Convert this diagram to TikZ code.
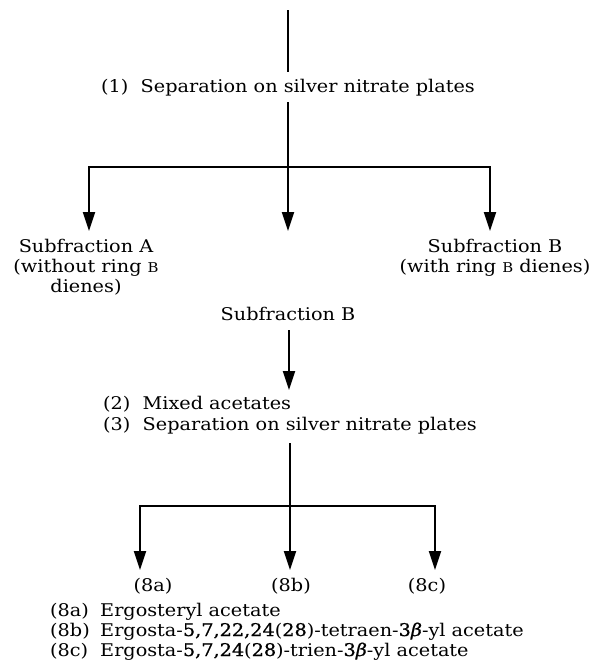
\documentclass[tikz,border=0pt]{standalone}
\usepackage{fontspec}
\setmainfont[FakeStretch=1.1]{DejaVu Serif}
\usetikzlibrary{arrows.meta}
\newcommand{\scB}{{\fontsize{13.5}{13.5}\selectfont B}}
\newcommand{\bd}[1]{{\addfontfeature{FakeBold=0.8}#1}}
\begin{document}
\begin{tikzpicture}[x=1pt,y=-1pt,
  txt/.style={inner sep=0pt,font=\fontsize{17.5}{20}\selectfont,anchor=base},
  txw/.style={txt,anchor=base west},
  ln/.style={line width=2pt},
  arr/.style={line width=2pt,-{Triangle[length=19pt,width=12pt]}}]
\useasboundingbox (0,0) rectangle (592,662);
% top
\coordinate (top) at (288,10);
\coordinate (s1a) at (288,72);
\node[txw] (s1) at (101,92) {(1)\ \ Separation on silver nitrate plates};
\coordinate (s1b) at (288,102);
\coordinate (j1) at (288,167);
\coordinate (jl) at (89,167);
\coordinate (jr) at (490,167);
\draw[ln] (top) -- (s1a);
\draw[ln] (s1b) -- (j1);
\draw[ln] ([xshift=-1pt]jl) -- ([xshift=1pt]jr);
\coordinate (mid1) at (288,231);
\draw[arr] (jl) -- (jl |- mid1);
\draw[arr] (j1) -- (mid1);
\draw[arr] (jr) -- (jr |- mid1);
\node[txt] (subA1) at (86,252) {Subfraction A};
\node[txt] (subA2) at (86,272) {(without ring \scB};
\node[txt] (subA3) at (86,292) {dienes)};
\node[txt] (subR1) at (495,252) {Subfraction B};
\node[txt] (subR2) at (495,272) {(with ring \scB\ dienes)};
% second stage
\node[txt] (subB) at (288,320) {Subfraction B};
\coordinate (s2top) at (289,330);
\coordinate (s2tip) at (289,390);
\draw[arr] (s2top) -- (s2tip);
\node[txw] (s2) at (103,409) {(2)\ \ Mixed acetates};
\node[txw] (s3) at (103,430) {(3)\ \ Separation on silver nitrate plates};
\coordinate (s3top) at (290,443);
\coordinate (j2) at (290,506);
\coordinate (j2l) at (140,506);
\coordinate (j2r) at (435,506);
\draw[ln] (s3top) -- (j2);
\draw[ln] ([xshift=-1pt]j2l) -- ([xshift=1pt]j2r);
\coordinate (tip2) at (290,570);
\draw[arr] (j2l) -- (j2l |- tip2);
\draw[arr] (j2) -- (tip2);
\draw[arr] (j2r) -- (j2r |- tip2);
\node[txt] (p8a) at (153,591) {(8a)};
\node[txt] (p8b) at (291,591) {(8b)};
\node[txt] (p8c) at (427,591) {(8c)};
% legend
\node[txw] (l1a) at (50,616) {(8a)};
\node[txw] (l1b) at (100,616) {Ergosteryl acetate};
\node[txw] (l2a) at (50,636) {(8b)};
\node[txw] (l2b) at (100,636) {Ergosta-\bd{5,7,22,24}(\bd{28})-tetraen-\bd{3\textit{β}}-yl acetate};
\node[txw] (l3a) at (50,656) {(8c)};
\node[txw] (l3b) at (100,656) {Ergosta-\bd{5,7,24}(\bd{28})-trien-\bd{3\textit{β}}-yl acetate};
\end{tikzpicture}
\end{document}
